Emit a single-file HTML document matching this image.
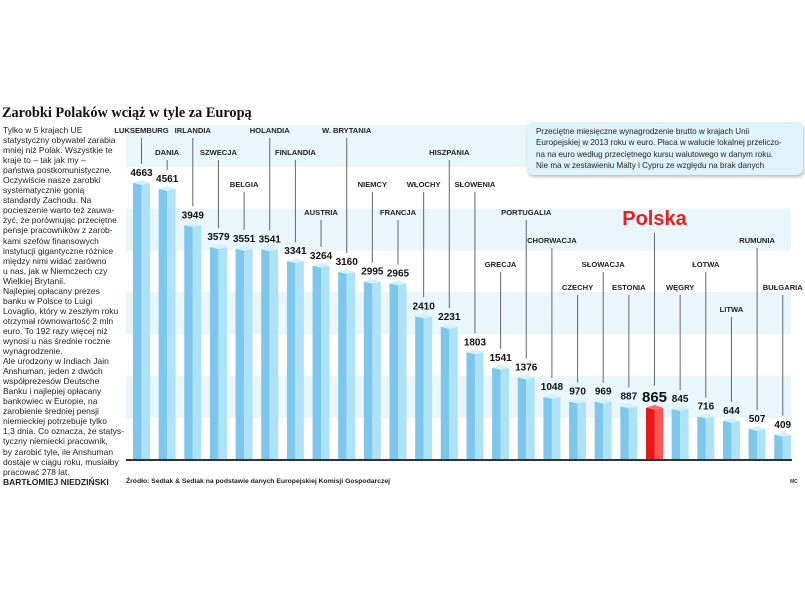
<!DOCTYPE html>
<html><head><meta charset="utf-8"><style>
body{margin:0;background:#fff;width:805px;height:596px;overflow:hidden;position:relative;font-family:"Liberation Sans",sans-serif}
#title{position:absolute;left:2px;top:105px;font:bold 14.3px "Liberation Serif",serif;color:#111;white-space:nowrap;z-index:2}
#lead{position:absolute;left:3px;top:125px;width:128px;font-size:8.5px;line-height:10.05px;color:#222;white-space:nowrap;z-index:2}
#note{position:absolute;left:527px;top:122px;width:258px;padding:4px 9px;background:#dff3fb;border-radius:6px;box-shadow:1px 2px 3px #bbb;font-size:8.1px;line-height:11.3px;color:#222;z-index:2}
svg{position:absolute;left:0;top:0;z-index:1}
</style></head><body>
<div id="title">Zarobki Polaków wciąż w tyle za Europą</div>
<div id="lead">Tylko w 5 krajach UE<br>statystyczny obywatel zarabia<br>mniej niż Polak. Wszystkie te<br>kraje to – tak jak my –<br>państwa postkomunistyczne.<br>Oczywiście nasze zarobki<br>systematycznie gonią<br>standardy Zachodu. Na<br>pocieszenie warto też zauwa-<br>żyć, że porównując przeciętne<br>pensje pracowników z zarob-<br>kami szefów finansowych<br>instytucji gigantyczne różnice<br>między nimi widać zarówno<br>u nas, jak w Niemczech czy<br>Wielkiej Brytanii.<br>Najlepiej opłacany prezes<br>banku w Polsce to Luigi<br>Lovaglio, który w zeszłym roku<br>otrzymał równowartość 2 mln<br>euro. To 192 razy więcej niż<br>wynosi u nas średnie roczne<br>wynagrodzenie.<br>Ale urodzony w Indiach Jain<br>Anshuman, jeden z dwóch<br>współprezesów Deutsche<br>Banku i najlepiej opłacany<br>bankowiec w Europie, na<br>zarobienie średniej pensji<br>niemieckiej potrzebuje tylko<br>1,3 dnia. Co oznacza, że statys-<br>tyczny niemiecki pracownik,<br>by zarobić tyle, ile Anshuman<br>dostaje w ciągu roku, musiałby<br>pracować 278 lat.<br><b>BARTŁOMIEJ NIEDZIŃSKI</b></div>
<div id="note">Przeciętne miesięczne wynagrodzenie brutto w krajach Unii<br>Europejskiej w 2013 roku w euro. Płaca w walucie lokalnej przeliczo-<br>na na euro według przeciętnego kursu walutowego w danym roku.<br>Nie ma w zestawieniu Malty i Cypru ze względu na brak danych</div>
<svg id="chart" width="805" height="596"></svg>
<script>
const countries=["LUKSEMBURG","DANIA","IRLANDIA","SZWECJA","BELGIA","HOLANDIA","FINLANDIA","AUSTRIA","W. BRYTANIA","NIEMCY","FRANCJA","WŁOCHY","HISZPANIA","SŁOWENIA","GRECJA","PORTUGALIA","CHORWACJA","CZECHY","SŁOWACJA","ESTONIA","Polska","WĘGRY","ŁOTWA","LITWA","RUMUNIA","BUŁGARIA"];
const values=[4663,4561,3949,3579,3551,3541,3341,3264,3160,2995,2965,2410,2231,1803,1541,1376,1048,970,969,887,865,845,716,644,507,409];
const labelTier=[0,1,0,1,2,0,1,3,0,2,3,2,1,2,5,3,4,6,5,6,9,6,5,7,4,6];
const NS="http://www.w3.org/2000/svg";
const svg=document.getElementById('chart');
function el(t,a){const e=document.createElementNS(NS,t);for(const k in a)e.setAttribute(k,a[k]);svg.appendChild(e);return e;}
const base=459,scale=276/4663,x0=133,step=25.65,bw=17;
const xPos=i=>x0+i*step, yPos=v=>base-v*scale;
const tierY=[133,155,187,215,243,267,290,312,0,225];
for(let k=0;k<8;k++){if(k%2==0){const b=el('rect',{x:126,y:125+k*41.8,width:665,height:42,fill:'#e9f6fb'});}}
el('line',{x1:126,y1:base+1,x2:792,y2:base+1,stroke:'#333','stroke-width':2});
countries.forEach((c,i)=>{
 const v=values[i],x=xPos(i),y=yPos(v),pl=c==="Polska";
 const g=document.createElementNS(NS,'g');svg.appendChild(g);
 
 
 const mk=(t,a)=>{const e=document.createElementNS(NS,t);for(const k in a)e.setAttribute(k,a[k]);g.appendChild(e);return e;};
 mk('rect',{x:x,y:y,width:bw/2,height:base-y,fill:pl?'#e81818':'#7ec6ec'});
 mk('rect',{x:x+bw/2,y:y,width:bw/2,height:base-y,fill:pl?'#ff5555':'#aee3f7'});
 mk('polygon',{points:`${x},${y} ${x+bw/2},${y-3} ${x+bw},${y} ${x+bw/2},${y+2}`,fill:pl?'#ff7070':'#d2f1fb'});
 const vt=mk('text',{x:x+bw/2,y:y-(pl?6:7),'text-anchor':'middle','font-size':pl?15:10,'font-weight':'bold',fill:'#111'});vt.textContent=v;
 const ly=tierY[labelTier[i]];
 if(pl){const t=mk('text',{x:x+bw/2,y:ly,'text-anchor':'middle','font-size':20,'font-weight':'bold',fill:'#ee1c1c'});t.textContent=c;
  mk('line',{x1:x+bw/2,y1:ly+8,x2:x+bw/2,y2:y-22,stroke:'#666','stroke-width':1});}
 else{const t=mk('text',{x:x+bw/2,y:ly,'text-anchor':'middle','font-size':7.6,'font-weight':'bold',fill:'#222'});t.textContent=c;
  mk('line',{x1:x+bw/2,y1:ly+5,x2:x+bw/2,y2:y-19,stroke:'#666','stroke-width':1});}
});
const src=el('text',{x:126,y:483,'font-size':6.8,'font-weight':'bold',fill:'#222'});src.textContent='Źródło: Sedlak & Sedlak na podstawie danych Europejskiej Komisji Gospodarczej';

const mc=el('text',{x:790,y:483,'font-size':5,'font-weight':'bold',fill:'#333'});mc.textContent='MC';
</script>
</body></html>
